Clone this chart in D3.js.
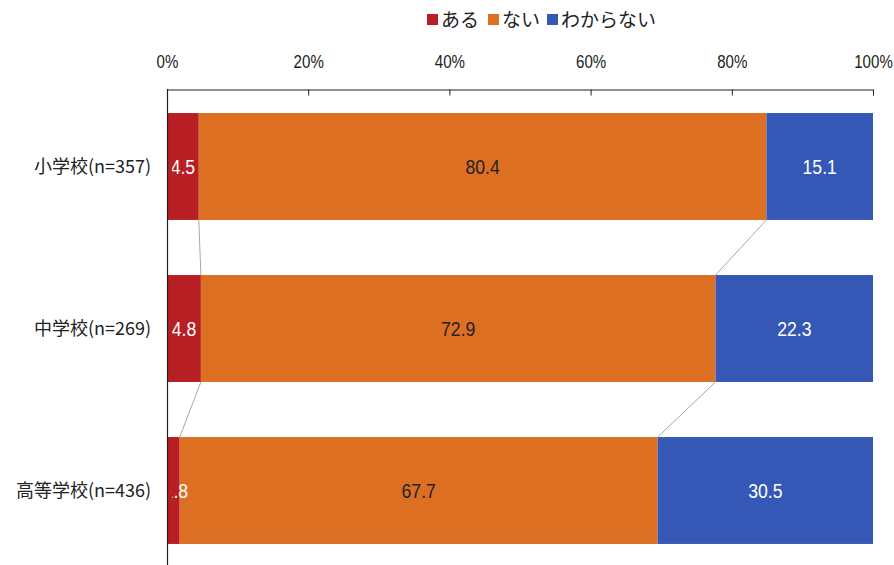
<!DOCTYPE html>
<html><head><meta charset="utf-8">
<script src="https://cdn.jsdelivr.net/npm/d3@7"></script>
<style>
body{margin:0;background:#fff;}
svg{display:block;}
</style></head>
<body><svg id="c" width="894" height="565"></svg>
<script>
const categories = ["小学校(n=357)", "中学校(n=269)", "高等学校(n=436)"];
const seriesNames = ["ある", "ない", "わからない"];
const aru = [4.5, 4.8, 1.8];
const nai = [80.4, 72.9, 67.7];
const wakaranai = [15.1, 22.3, 30.5];
const tickValues = [0, 20, 40, 60, 80, 100];
const colors = ["#B71F25", "#DD6F22", "#3557B5"];
const labelColors = ["#fff", "#222", "#fff"];

const numFont = "'Liberation Sans',Arial,sans-serif";
const jpFont = "'Noto Sans CJK JP',sans-serif";
const squeeze = 0.84;

const svg = d3.select("#c");
const x = d3.scaleLinear().domain([0, 100]).range([167, 873]);
const y = d3.scaleBand().domain(categories).range([85.5, 571.5]).paddingInner(0.34).paddingOuter(0.17);

const series = [aru, nai, wakaranai];
const rows = categories.map((c, i) => {
  let acc = 0;
  return series.map((s, k) => { const r = {cat: c, k, v: s[i], x0: acc, x1: acc + s[i]}; acc += s[i]; return r; });
});

svg.append("clipPath").attr("id", "plot").append("rect")
  .attr("x", x(0) + 5).attr("y", 0).attr("width", x(100) - x(0)).attr("height", 565);

// connector lines
for (let i = 0; i < rows.length - 1; i++) {
  for (let k = 0; k < 2; k++) {
    svg.append("line")
      .attr("x1", x(rows[i][k].x1)).attr("y1", y(categories[i]) + y.bandwidth())
      .attr("x2", x(rows[i + 1][k].x1)).attr("y2", y(categories[i + 1]))
      .attr("stroke", "#a8a8a8").attr("stroke-width", 1);
  }
}

// bars
const g = svg.append("g");
rows.forEach(r => {
  g.selectAll(null).data(r).enter().append("rect")
    .attr("x", d => x(d.x0)).attr("y", d => y(d.cat))
    .attr("width", d => x(d.x1) - x(d.x0)).attr("height", y.bandwidth())
    .attr("fill", d => colors[d.k]);
});
// value labels
const lg = svg.append("g").attr("clip-path", "url(#plot)");
rows.forEach(r => {
  lg.selectAll(null).data(r).enter().append("g")
    .attr("transform", d => `translate(${(x(d.x0) + x(d.x1)) / 2 + (d.v < 3 ? 2.5 : 0)},${y(d.cat) + y.bandwidth() / 2}) scale(${squeeze},1)`)
    .append("text")
    .attr("dy", "0.36em")
    .attr("text-anchor", "middle")
    .attr("font-family", numFont).attr("font-size", 21)
    .attr("fill", d => labelColors[d.k])
    .text(d => d.v.toFixed(1));
});

// top axis
const ax = svg.append("g").attr("transform", "translate(0,89.5)")
  .call(d3.axisTop(x).tickValues(tickValues).tickFormat(d => d + "%")
    .tickSizeInner(-6).tickSizeOuter(-6).tickPadding(22));
ax.selectAll("path,line").attr("stroke", "#222");
ax.selectAll("text").attr("font-family", numFont).attr("font-size", 18).attr("fill", "#222")
  .attr("transform", `scale(${squeeze},1)`);

// left axis line
svg.append("line").attr("x1", x(0) + 0.5).attr("x2", x(0) + 0.5).attr("y1", 89).attr("y2", 565)
  .attr("stroke", "#222").attr("stroke-width", 1.2);

// category labels
svg.selectAll(".cat").data(categories).enter().append("text")
  .attr("x", 151).attr("y", d => y(d) + y.bandwidth() / 2).attr("dy", "0.36em")
  .attr("text-anchor", "end").attr("font-family", jpFont).attr("font-size", 18).attr("fill", "#222")
  .text(d => d);

// legend
const legX = [427, 488, 547];
const leg = svg.selectAll(".leg").data(seriesNames).enter().append("g")
  .attr("transform", (d, i) => `translate(${legX[i]},0)`);
leg.append("rect").attr("x", 0).attr("y", 14).attr("width", 11).attr("height", 11)
  .attr("fill", (d, i) => colors[i]);
leg.append("text").attr("x", 14).attr("y", 20).attr("dy", "0.36em")
  .attr("font-family", jpFont).attr("font-size", 19).attr("fill", "#222").text(d => d);
</script></body></html>
